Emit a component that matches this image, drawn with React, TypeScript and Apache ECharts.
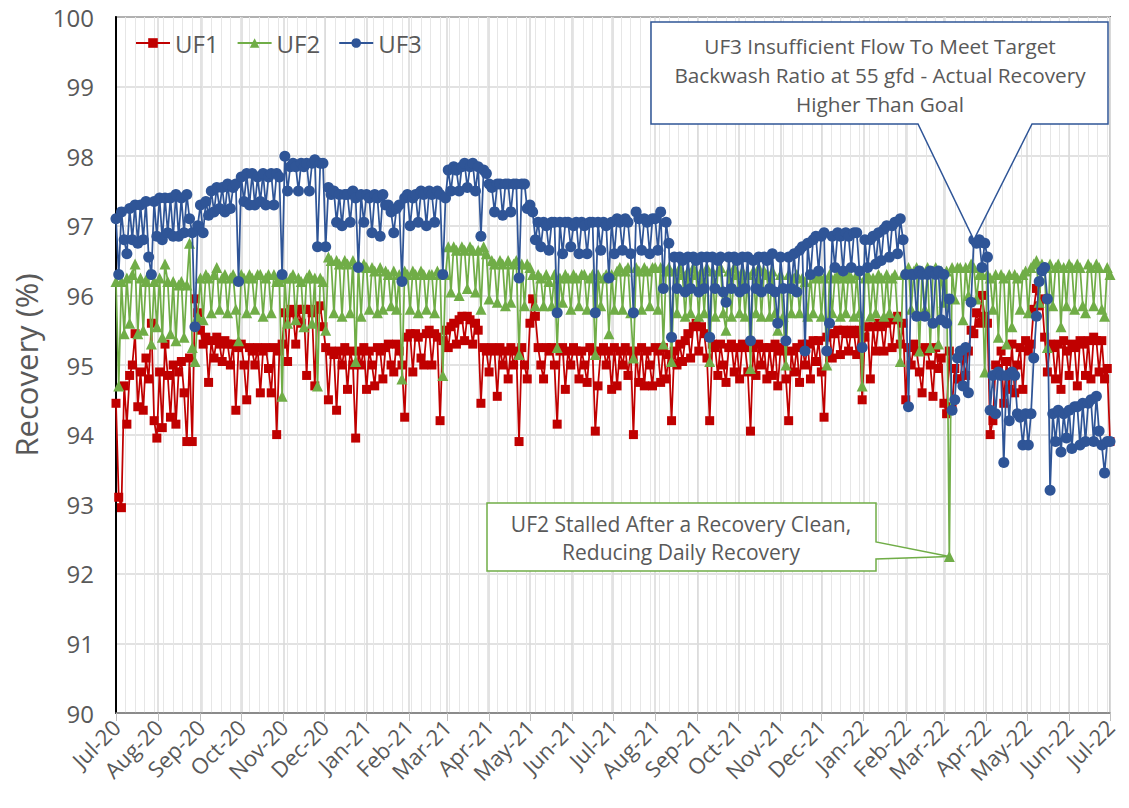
import { useEffect, useRef } from "react";
import * as echarts from "echarts";

// Daily recovery readings sampled every STEP_DAYS days starting 1 Jul 2020
const START_YEAR = 2020;
const START_MONTH = 6; // July (0-based)
const STEP_DAYS = 2;
const SPAN_DAYS = 730;
const MONTH_NAMES = ["Jan", "Feb", "Mar", "Apr", "May", "Jun", "Jul", "Aug", "Sep", "Oct", "Nov", "Dec"];
const SERIES_NAMES = ["UF1", "UF2", "UF3"];

const UF1 = [
  94.45, 93.1, 92.95, 94.7, 94.15, 94.85, 95.0, 95.45, 94.4, 94.9,
  94.35, 95.1, 94.8, 95.6, 94.2, 93.95, 94.9, 94.1, 95.3, 94.85,
  94.25, 95.0, 94.15, 94.9, 95.05, 94.6, 93.9, 95.1, 93.9, 95.95,
  95.75, 95.5, 95.3, 95.4, 94.75, 95.35, 95.1, 95.4, 95.3, 95.05,
  95.35, 95.3, 95.0, 95.3, 94.35, 95.25, 95.3, 95.0, 94.5, 95.25,
  95.2, 95.0, 95.25, 94.6, 95.2, 95.25, 94.95, 94.6, 95.25, 94.0,
  95.2, 95.3, 95.75, 95.05, 95.8, 95.75, 95.3, 95.8, 95.6, 95.8,
  94.85, 95.8, 95.75, 94.7, 95.8, 95.85, 95.55, 95.25, 94.5, 95.2,
  95.15, 94.35, 95.2, 95.0, 95.25, 94.65, 95.2, 95.0, 93.95, 95.2,
  95.0, 95.25, 94.65, 95.2, 95.0, 94.7, 95.25, 95.2, 94.8, 95.25,
  95.3, 95.0, 94.9, 95.3, 95.2, 95.0, 94.25, 95.4, 95.45, 94.9,
  95.45, 95.4, 95.1, 95.0, 95.45, 95.5, 95.0, 95.45, 95.4, 94.2,
  95.35, 95.5, 95.25, 95.55, 95.6, 95.3, 95.65, 95.7, 95.35, 95.7,
  95.65, 95.3, 95.6, 95.5, 94.45, 95.25, 95.2, 94.9, 95.25, 95.2,
  94.55, 95.25, 95.0, 95.2, 94.8, 95.25, 95.0, 95.2, 93.9, 95.25,
  95.0, 94.8, 95.6, 95.95, 95.7, 95.25, 95.0, 94.8, 95.25, 95.2,
  95.25, 95.0, 94.15, 95.2, 95.25, 94.65, 95.2, 95.0, 95.25, 95.2,
  94.8, 95.2, 95.0, 94.75, 95.25, 95.2, 94.05, 94.7, 95.2, 95.25,
  95.0, 95.2, 94.65, 95.25, 94.7, 95.2, 95.0, 95.25, 94.85, 95.2,
  94.0, 95.2, 94.75, 95.25, 94.7, 95.2, 95.0, 94.7, 95.25, 95.2,
  94.75, 95.25, 94.8, 95.15, 94.2, 95.2, 95.0, 95.3, 95.05, 95.35,
  95.45, 95.1, 95.55, 95.6, 95.2, 95.55, 95.45, 95.1, 94.2, 95.3,
  95.25, 94.85, 95.3, 95.0, 94.75, 95.25, 95.3, 94.9, 95.25, 94.8,
  95.3, 95.25, 94.9, 94.05, 95.25, 94.85, 95.3, 95.0, 95.25, 94.8,
  95.25, 94.85, 95.3, 94.7, 95.2, 95.25, 94.8, 94.2, 95.2, 94.9,
  95.25, 94.75, 95.3, 95.0, 95.3, 94.8, 95.35, 95.05, 95.35, 94.9,
  94.25, 95.4, 95.45, 95.1, 95.45, 95.5, 95.15, 95.5, 95.45, 95.2,
  95.5, 95.45, 95.15, 95.5, 94.5, 95.4, 95.55, 94.8, 95.55, 95.2,
  95.6, 95.55, 95.2, 95.6, 95.65, 95.25, 95.65, 95.7, 95.3, 95.6,
  94.5, 95.25, 95.0, 95.3, 95.2, 94.9, 94.6, 95.25, 95.2, 95.0,
  94.55, 95.25, 94.95, 95.1, 94.45, 94.3, 95.2, 94.4, 94.95, 94.8,
  94.8, 95.1, 94.85, 95.2, 95.5, 95.45, 95.75, 95.6, 96.0, 95.7,
  95.6, 94.0, 94.2, 95.0, 94.95, 95.2, 94.45, 95.05, 94.65, 95.3,
  94.6, 95.0, 95.25, 94.65, 95.35, 95.2, 95.3, 95.8, 96.1, 95.85,
  95.95, 95.4, 94.9, 95.3, 95.25, 94.8, 95.3, 94.65, 95.35, 95.2,
  94.85, 95.3, 95.25, 94.7, 95.35, 95.3, 94.85, 95.35, 94.8, 95.4,
  95.35, 94.9, 95.35, 94.8, 94.95, 93.9,
];

const UF2 = [
  96.2, 94.7, 96.2, 95.45, 96.25, 95.6, 96.3, 96.45, 95.45, 96.25,
  95.5, 96.2, 96.3, 95.3, 96.2, 95.55, 96.25, 95.4, 96.45, 96.2,
  95.45, 96.2, 95.35, 96.15, 96.2, 95.4, 96.15, 96.75, 95.25, 95.05,
  95.7, 96.25, 95.65, 96.3, 96.25, 95.75, 96.3, 96.4, 95.8, 96.25,
  96.3, 95.75, 96.25, 96.3, 95.8, 95.35, 96.3, 96.25, 95.75, 96.3,
  96.25, 95.8, 96.3, 96.3, 95.7, 96.25, 96.3, 95.75, 96.3, 96.2,
  96.2, 94.55, 96.25, 95.6, 96.25, 96.3, 95.65, 96.25, 96.2, 95.55,
  96.25, 96.3, 95.6, 96.25, 94.7, 96.25, 96.2, 95.5, 96.55, 96.5,
  95.75, 96.5, 96.45, 95.7, 96.5, 96.45, 95.75, 96.5, 95.05, 96.45,
  95.7, 96.45, 96.4, 95.8, 96.4, 96.35, 95.75, 96.4, 95.8, 96.35,
  96.3, 95.85, 96.35, 95.8, 96.3, 94.8, 96.35, 96.3, 95.8, 96.35,
  96.3, 95.75, 96.35, 96.3, 95.8, 96.3, 96.3, 95.75, 96.35, 96.3,
  94.85, 96.3, 96.7, 96.05, 96.7, 96.65, 96.0, 96.7, 96.65, 96.1,
  96.7, 96.65, 96.05, 96.65, 95.8, 96.7, 96.6, 95.95, 96.5, 96.45,
  95.9, 96.5, 96.45, 95.85, 96.5, 95.9, 96.45, 96.5, 95.15, 96.45,
  95.85, 96.45, 96.4, 96.3, 95.85, 96.3, 96.25, 95.85, 96.3, 96.2,
  95.85, 96.3, 95.25, 96.25, 95.9, 96.3, 96.25, 95.8, 96.3, 96.25,
  95.85, 96.3, 96.3, 95.8, 96.25, 96.3, 95.15, 96.3, 95.85, 96.25,
  96.3, 95.45, 96.3, 95.8, 96.35, 96.4, 95.8, 96.35, 96.4, 95.75,
  95.1, 96.4, 96.35, 95.8, 96.4, 96.35, 95.85, 96.4, 96.4, 95.8,
  96.4, 95.3, 96.35, 96.4, 95.05, 96.35, 95.75, 96.4, 96.3, 95.7,
  96.35, 95.75, 96.4, 96.3, 95.7, 96.35, 95.75, 96.4, 95.05, 96.35,
  95.7, 96.35, 96.4, 95.75, 95.5, 96.35, 95.7, 96.4, 96.3, 95.75,
  96.35, 95.7, 96.3, 94.95, 96.35, 95.75, 96.4, 95.7, 96.35, 96.3,
  95.7, 96.35, 95.75, 95.5, 96.3, 95.7, 95.0, 96.3, 95.75, 96.25,
  96.3, 95.75, 96.25, 96.2, 95.7, 96.3, 95.75, 96.25, 96.3, 95.7,
  96.25, 95.0, 96.3, 95.75, 96.25, 96.3, 95.7, 96.25, 95.75, 96.3,
  96.25, 95.7, 96.3, 95.75, 94.7, 96.25, 96.3, 95.7, 96.25, 95.75,
  96.3, 96.25, 95.7, 96.3, 95.75, 96.25, 96.3, 95.7, 95.05, 96.3,
  96.35, 96.4, 95.8, 96.35, 96.4, 95.2, 96.35, 95.8, 96.4, 95.25,
  96.35, 96.4, 95.3, 96.35, 95.9, 96.35, 92.25, 96.4, 95.95, 96.4,
  96.4, 95.65, 96.4, 96.0, 96.45, 96.4, 95.95, 96.3, 96.3, 94.9,
  96.3, 96.25, 95.8, 96.3, 95.4, 96.3, 96.25, 95.3, 96.3, 95.55,
  96.3, 96.25, 95.8, 96.3, 96.35, 95.75, 96.4, 96.45, 96.5, 95.9,
  96.45, 96.4, 95.25, 96.45, 95.85, 96.4, 96.45, 95.55, 96.4, 95.85,
  96.45, 96.4, 95.8, 96.45, 96.4, 95.85, 95.75, 96.45, 96.4, 95.85,
  96.45, 96.4, 95.8, 95.7, 96.4, 96.3,
];

const UF3 = [
  97.1, 96.3, 97.2, 96.8, 96.6, 97.25, 96.8, 97.3, 96.75, 97.3,
  96.8, 97.35, 96.55, 96.3, 97.35, 96.85, 97.4, 96.8, 97.4, 96.9,
  97.4, 96.85, 97.45, 96.85, 97.4, 96.9, 97.45, 97.1, 96.9, 95.55,
  97.0, 97.3, 96.9, 97.35, 97.15, 97.5, 97.2, 97.55, 97.25, 97.55,
  97.2, 97.6, 97.25, 97.55, 97.6, 96.2, 97.7, 97.35, 97.75, 97.3,
  97.75, 97.3, 97.7, 97.35, 97.75, 97.3, 97.7, 97.75, 97.3, 97.75,
  97.7, 96.3, 98.0, 97.5, 97.85, 97.9, 97.85, 97.5, 97.9, 97.85,
  97.9, 97.5, 97.9, 97.95, 96.7, 97.9, 97.9, 96.7, 97.55, 97.45,
  97.5, 97.05, 97.45, 97.0, 97.45, 97.45, 97.05, 97.5, 97.4, 96.4,
  97.45, 97.05, 97.45, 97.4, 96.9, 97.45, 97.4, 96.85, 97.45, 97.3,
  97.3, 97.2, 96.9, 97.25, 97.3, 96.2, 97.4, 97.45, 97.0, 97.4,
  97.45, 97.05, 97.5, 97.45, 97.0, 97.5, 97.45, 97.05, 97.5, 97.45,
  96.3, 97.4, 97.8, 97.5, 97.85, 97.8, 97.5, 97.85, 97.9, 97.55,
  97.85, 97.9, 97.5, 97.85, 96.85, 97.8, 97.75, 97.6, 97.55, 97.2,
  97.6, 97.6, 97.15, 97.6, 97.6, 97.2, 97.6, 97.6, 96.25, 97.6,
  97.6, 97.25, 97.3, 97.2, 96.8, 97.05, 96.7, 97.05, 97.0, 96.65,
  97.05, 97.05, 95.75, 97.05, 96.6, 97.05, 97.05, 96.7, 97.0, 97.05,
  96.6, 97.05, 97.0, 96.6, 97.05, 97.05, 95.75, 97.05, 96.65, 97.05,
  97.0, 96.25, 97.05, 96.6, 97.1, 97.05, 96.65, 97.1, 97.05, 96.6,
  95.75, 97.2, 97.1, 96.65, 97.1, 97.05, 96.6, 97.1, 97.1, 96.65,
  97.2, 96.1, 97.05, 96.75, 95.4, 96.55, 96.1, 96.55, 96.5, 96.05,
  96.55, 96.1, 96.55, 96.5, 96.05, 96.55, 96.1, 96.55, 95.4, 96.55,
  96.1, 96.5, 96.55, 96.05, 95.9, 96.55, 96.1, 96.55, 96.5, 96.05,
  96.55, 96.1, 96.55, 95.35, 96.5, 96.1, 96.55, 96.05, 96.55, 96.5,
  96.1, 96.6, 96.05, 95.6, 96.55, 96.1, 95.35, 96.55, 96.1, 96.6,
  96.05, 96.65, 96.7, 95.2, 96.75, 96.3, 96.8, 96.85, 96.35, 96.85,
  96.9, 95.2, 95.6, 96.85, 96.4, 96.9, 96.85, 96.35, 96.9, 96.85,
  96.4, 96.9, 96.9, 96.35, 95.25, 96.8, 96.4, 96.8, 96.85, 96.45,
  96.9, 96.5, 96.95, 97.0, 96.55, 97.0, 97.05, 96.6, 97.1, 96.8,
  96.3, 94.4, 96.3, 96.3, 95.7, 96.35, 96.3, 95.7, 96.3, 96.35,
  95.6, 96.3, 96.35, 95.65, 96.3, 95.6, 95.95, 94.35, 94.5, 95.1,
  95.2, 94.7, 95.25, 94.6, 95.9, 96.8, 96.75, 96.8, 96.4, 96.75,
  96.55, 94.35, 94.85, 94.3, 94.9, 94.85, 93.6, 94.85, 94.2, 94.9,
  94.85, 94.3, 94.25, 93.85, 94.3, 93.85, 94.3, 95.1, 95.7, 96.2,
  96.35, 96.4, 95.95, 93.2, 94.3, 93.9, 94.35, 93.75, 94.3, 93.95,
  94.35, 93.8, 94.4, 94.4, 93.85, 94.45, 93.9, 94.45, 94.5, 93.9,
  94.55, 94.05, 93.85, 93.45, 93.9, 93.9,
];

const SERIES_COLORS = ["#C00000", "#70AD47", "#2F5597"];
const SERIES_SYMBOLS = ["rect", "triangle", "circle"];
const SERIES_SYMBOL_SIZES = [9, 11, 11];

const CALLOUT_UF3 = "UF3 Insufficient Flow To Meet Target\nBackwash Ratio at 55 gfd - Actual Recovery\nHigher Than Goal";
const CALLOUT_UF2 = "UF2 Stalled After a Recovery Clean,\nReducing Daily Recovery";
const CALLOUT_UF3_INDEX = 315; // point the UF3 callout refers to
const CALLOUT_UF2_INDEX = 306; // point the UF2 callout refers to

const DAY_MS = 86400000;
const T0 = new Date(START_YEAR, START_MONTH, 1).getTime();
const T1 = new Date(START_YEAR + 2, START_MONTH, 1).getTime();
const dayToTime = (d: number) => T0 + d * DAY_MS;

const FONT = "Open Sans";
const GRAY = "#595959";

export default function App() {
  const ref = useRef<HTMLDivElement>(null);

  useEffect(() => {
    if (!ref.current) return;
    const chart = echarts.init(ref.current, undefined, { renderer: "svg" });
    const seriesData = [UF1, UF2, UF3];

    chart.setOption({
      animation: false,
      backgroundColor: "#fff",
      textStyle: { fontFamily: FONT },
      grid: {
        left: 116,
        top: 17,
        right: 19,
        bottom: 95,
        show: true,
        borderColor: "#000",
        borderWidth: 1.5,
        backgroundColor: "transparent",
        containLabel: false,
        outerBoundsMode: "none",
      },
      legend: {
        data: SERIES_NAMES,
        left: 130,
        top: 26,
        itemWidth: 34,
        itemHeight: 12,
        itemGap: 18,
        textStyle: { fontSize: 24, color: GRAY, fontFamily: FONT },
      },
      xAxis: [
        {
          type: "value",
          min: 0,
          max: SPAN_DAYS,
          interval: 7,
          position: "top",
          axisLine: { show: false },
          axisTick: { show: false },
          axisLabel: { show: false },
          splitLine: { show: true, lineStyle: { color: "#E6E6E6", width: 1 } },
        },
        {
          type: "time",
          min: T0,
          max: T1,
          splitNumber: 24,
          minInterval: 28 * DAY_MS,
          maxInterval: 31 * DAY_MS,
          position: "bottom",
          axisLine: { show: true, lineStyle: { color: "#7F7F7F", width: 1.5 } },
          axisTick: { show: true, length: 8, lineStyle: { color: "#BFBFBF" } },
          axisLabel: {
            rotate: 45,
            fontSize: 22,
            color: GRAY,
            margin: 10,
            hideOverlap: false,
            formatter: (v: number) => {
              const d = new Date(v);
              return `${MONTH_NAMES[d.getMonth()]}-${String(d.getFullYear()).slice(2)}`;
            },
          },
          splitLine: { show: true, lineStyle: { color: "#D9D9D9", width: 1.5 } },
        },
      ],
      yAxis: {
        type: "value",
        min: 90,
        max: 100,
        interval: 1,
        axisLine: { show: true, lineStyle: { color: "#000", width: 2 } },
        axisTick: { show: false },
        axisLabel: { fontSize: 24, color: GRAY, margin: 22 },
        splitLine: { show: true, lineStyle: { color: "#D9D9D9", width: 1.5 } },
        name: "Recovery (%)",
        nameLocation: "middle",
        nameGap: 68,
        nameTextStyle: { fontSize: 31, color: GRAY },
      },
      series: SERIES_NAMES.map((name, s) => ({
        name,
        type: "line",
        xAxisIndex: 1,
        yAxisIndex: 0,
        data: seriesData[s].map((v, i) => [dayToTime(i * STEP_DAYS), v]),
        symbol: SERIES_SYMBOLS[s],
        symbolSize: SERIES_SYMBOL_SIZES[s],
        showSymbol: true,
        showAllSymbol: true,
        itemStyle: { color: SERIES_COLORS[s] },
        lineStyle: { color: SERIES_COLORS[s], width: 1.75 },
        emphasis: { disabled: true },
        z: 2 + s,
      })),
    });

    const tip3 = chart.convertToPixel({ seriesIndex: 2 }, [
      dayToTime(CALLOUT_UF3_INDEX * STEP_DAYS),
      UF3[CALLOUT_UF3_INDEX],
    ]) as number[];
    const tip2 = chart.convertToPixel({ seriesIndex: 1 }, [
      dayToTime(CALLOUT_UF2_INDEX * STEP_DAYS),
      UF2[CALLOUT_UF2_INDEX],
    ]) as number[];

    chart.setOption({
      graphic: [
        {
          type: "polygon",
          z: 100,
          shape: {
            points: [
              [651, 22],
              [1108, 22],
              [1108, 124],
              [1032, 124],
              [tip3[0], tip3[1]],
              [918, 124],
              [651, 124],
            ],
          },
          style: { fill: "#fff", stroke: "#2F5597", lineWidth: 1.5 },
        },
        {
          type: "text",
          z: 101,
          x: 880,
          y: 75,
          style: {
            text: CALLOUT_UF3,
            align: "center",
            verticalAlign: "middle",
            fontSize: 20.75,
            lineHeight: 29,
            fill: GRAY,
            fontFamily: FONT,
          },
        },
        {
          type: "polygon",
          z: 100,
          shape: {
            points: [
              [487, 503],
              [876, 503],
              [876, 542],
              [tip2[0], tip2[1]],
              [876, 559],
              [876, 571],
              [487, 571],
            ],
          },
          style: { fill: "#fff", stroke: "#70AD47", lineWidth: 1.5 },
        },
        {
          type: "text",
          z: 101,
          x: 681,
          y: 538,
          style: {
            text: CALLOUT_UF2,
            align: "center",
            verticalAlign: "middle",
            fontSize: 21,
            lineHeight: 28,
            fill: GRAY,
            fontFamily: FONT,
          },
        },
      ],
    });

    return () => chart.dispose();
  }, []);

  return (
    <div
      ref={ref}
      style={{ position: "absolute", left: 0, top: 0, width: 1129, height: 808, background: "#fff" }}
    />
  );
}
